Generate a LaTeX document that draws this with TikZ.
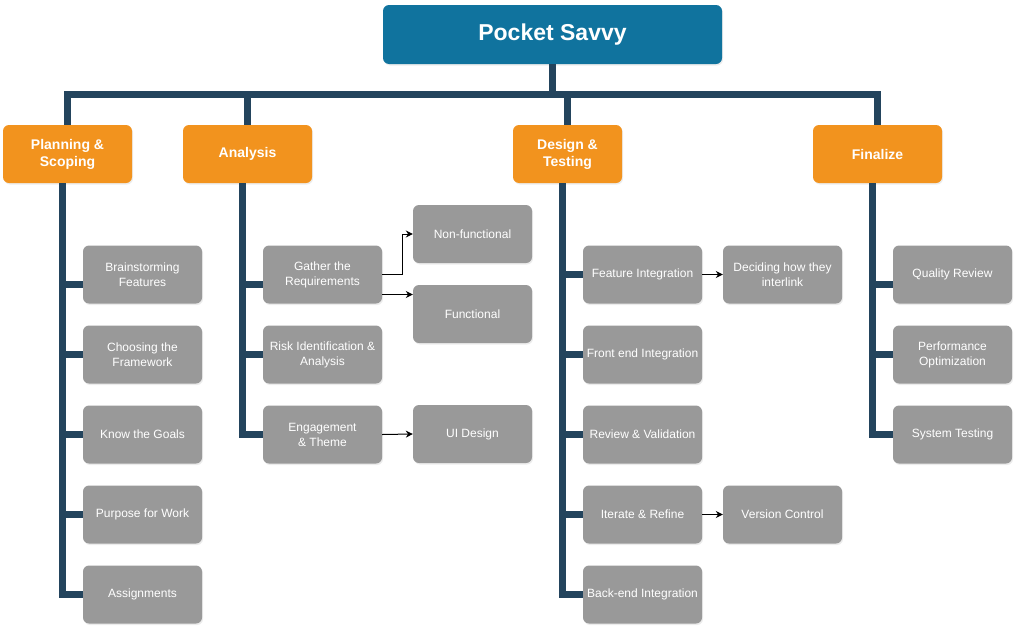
\documentclass[tikz,border=0pt]{standalone}
\usepackage{fontspec}
\setmainfont{Liberation Sans}
\usepackage{tikz}
\usetikzlibrary{arrows.meta,calc,positioning,shadows}
\definecolor{rootblue}{RGB}{16,115,158}
\definecolor{phaseorange}{RGB}{242,147,30}
\definecolor{taskgray}{RGB}{153,153,153}
\definecolor{busnavy}{RGB}{35,68,93}
\tikzset{
  box/.style={rounded corners=6pt, inner sep=0pt, text=white, align=center,
    drop shadow={opacity=0.15, shadow xshift=1pt, shadow yshift=-1.5pt}},
  rootbox/.style={box, fill=rootblue, minimum width=339pt, minimum height=59pt,
    font=\bfseries\fontsize{23}{27}\selectfont},
  phase/.style={box, fill=phaseorange, minimum width=129pt, minimum height=58pt,
    font=\bfseries\fontsize{14}{17}\selectfont},
  task/.style={box, fill=taskgray, minimum width=119pt, minimum height=58pt,
    font=\fontsize{12}{15}\selectfont},
  bus/.style={draw=busnavy, line width=7pt},
  link/.style={draw=black, line width=1pt, -{Stealth[length=7pt,width=7pt]}}
}
\begin{document}
\begin{tikzpicture}[x=1pt,y=-1pt]
\useasboundingbox (0,0) rectangle (1018,632);
\pgfmathsetmacro{\busy}{94}

\node[rootbox] (root) at (552.5,34.5) {Pocket Savvy};
\node[phase] (plan) at (67.5,154) {Planning \&\\Scoping};
\node[phase] (anal) at (247.5,154) {Analysis};
\node[phase, minimum width=109pt] (desi) at (567.5,154) {Design \&\\Testing};
\node[phase] (fina) at (877.5,154) {Finalize};

% main bus
\coordinate (bus) at (0,\busy);
\draw[bus] (root.south) -- (root.south |- bus);
\draw[bus] (plan.north) |- (fina.north |- bus) -- (fina.north);
\draw[bus] (anal.north) -- (anal.north |- bus);
\draw[bus] (desi.north) -- (desi.north |- bus);

% task columns
\foreach \t [count=\i] in {{Brainstorming\\Features},{Choosing the\\Framework},
    {Know the Goals},{Purpose for Work},{Assignments}}
  \node[task] (pl\i) at (142.5,{194.5+80*\i}) {\t};
\foreach \t [count=\i] in {{Gather the\\Requirements},{Risk Identification \&\\Analysis},
    {Engagement\\\& Theme}}
  \node[task] (an\i) at (322.5,{194.5+80*\i}) {\t};
\foreach \t [count=\i] in {{Feature Integration},{Front end Integration},
    {Review \& Validation},{Iterate \& Refine},{Back-end Integration}}
  \node[task] (de\i) at (642.5,{194.5+80*\i}) {\t};
\foreach \t [count=\i] in {{Quality Review},{Performance\\Optimization},{System Testing}}
  \node[task] (fi\i) at (952.5,{194.5+80*\i}) {\t};

\node[task] (nonf) at (472.5,234) {Non-functional};
\node[task] (func) at (472.5,314) {Functional};
\node[task] (uide) at (472.5,434) {UI Design};
\node[task] (inte) at (782.5,274.5) {Deciding how they\\interlink};
\node[task] (vers) at (782.5,514.5) {Version Control};

% branches
\draw[bus] ([xshift=-5pt]plan.south) |- ([yshift=-10pt]pl1.west);
\foreach \i in {2,...,5}
  \draw[bus] ([xshift=-5pt]plan.south) |- (pl\i.west);
\draw[bus] ([xshift=-5pt]anal.south) |- ([yshift=-10pt]an1.west);
\foreach \i in {2,3}
  \draw[bus] ([xshift=-5pt]anal.south) |- (an\i.west);
\foreach \i in {1,...,5}
  \draw[bus] ([xshift=-5pt]desi.south) |- (de\i.west);
\draw[bus] ([xshift=-5pt]fina.south) |- ([yshift=-10pt]fi1.west);
\foreach \i in {2,3}
  \draw[bus] ([xshift=-5pt]fina.south) |- (fi\i.west);

% links
\draw[link] (an1.east) -- ++(20,0) |- (nonf.west);
\draw[link] ([yshift=-20pt]an1.east) -- ([yshift=-20pt]an1.east -| func.west);
\draw[link] (an3.east) -- (uide.west);
\draw[link] (de1.east) -- (inte.west);
\draw[link] (de4.east) -- (vers.west);
\end{tikzpicture}
\end{document}
